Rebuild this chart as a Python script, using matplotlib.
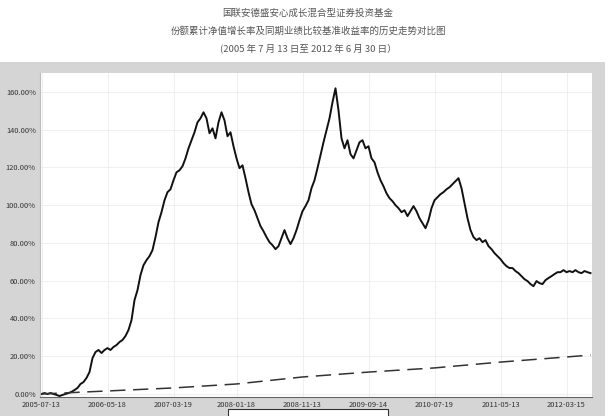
import matplotlib.pyplot as plt
from matplotlib.patches import Rectangle

plt.rcParams['font.family'] = ['Noto Sans CJK SC', 'DejaVu Sans']

title_lines = ["国联安德盛安心成长混合型证券投资基金",
               "份额累计净值增长率及同期业绩比较基准收益率的历史走势对比图",
               "(2005 年 7 月 13 日至 2012 年 6 月 30 日）"]

# cumulative NAV growth (%), equally spaced samples
fund = [0.0, 0.5, 0.0, 0.5, 0.0, -0.5, -1.1, -0.5, 0.0, 0.5, 1.1, 2.1,
        3.2, 5.3, 6.3, 8.5, 11.6, 19.0, 22.2, 23.3, 21.7, 23.3, 24.3, 23.3,
        24.9, 25.9, 27.5, 28.6, 30.7, 33.9, 39.1, 49.7, 55.0, 63.0, 68.2, 70.9,
        73.0, 76.2, 83.1, 91.0, 96.3, 102.6, 106.9, 108.4, 113.2, 117.4, 118.5, 120.6,
        124.8, 130.1, 134.4, 138.6, 143.9, 146.0, 149.2, 146.0, 138.1, 140.7, 135.4, 143.9,
        149.2, 144.9, 136.5, 138.6, 131.2, 124.8, 119.6, 121.1, 114.3, 106.9, 100.5, 97.3,
        93.1, 88.9, 86.2, 83.1, 80.4, 78.8, 76.7, 78.3, 82.5, 86.8, 82.5, 79.4,
        82.5, 86.8, 92.0, 96.8, 99.5, 102.6, 109.0, 113.2, 119.6, 126.4, 133.3, 139.7,
        146.0, 154.5, 161.9, 150.2, 135.4, 130.1, 134.4, 127.0, 124.8, 129.1, 133.3, 134.4,
        130.1, 131.2, 124.8, 122.7, 117.4, 113.2, 110.0, 106.3, 103.7, 102.1, 100.0, 98.4,
        96.3, 97.3, 94.2, 96.8, 99.5, 96.8, 93.1, 90.5, 87.8, 92.0, 98.4, 102.6,
        104.2, 105.8, 106.9, 108.4, 109.5, 111.1, 112.7, 114.3, 109.0, 101.0, 93.1, 86.8,
        83.1, 81.5, 82.5, 80.4, 81.5, 78.3, 76.7, 74.6, 73.0, 71.4, 69.3, 67.7,
        66.7, 66.7, 65.1, 64.0, 62.4, 60.8, 59.8, 58.2, 57.1, 59.8, 58.7, 58.2,
        60.3, 61.4, 62.4, 63.5, 64.5, 64.5, 65.6, 64.5, 65.1, 64.5, 65.6, 64.5,
        64.0, 65.1, 64.5, 64.0]

# benchmark (%), read at a few sample positions
bench_idx = [0, 22, 44, 65, 87, 109, 131, 153, 175, 183]
bench = [0.0, 1.6, 3.2, 5.3, 9.0, 11.6, 13.8, 16.9, 19.6, 20.6]

tick_idx = [0, 22, 44, 65, 87, 109, 131, 153, 175]
tick_labels = ["2005-07-13", "2006-05-18", "2007-03-19", "2008-01-18", "2008-11-13",
               "2009-09-14", "2010-07-19", "2011-05-13", "2012-03-15"]
y_ticks = [0, 20, 40, 60, 80, 100, 120, 140, 160]

fig = plt.figure(figsize=(6.15, 4.16), dpi=100)
fig.patches.append(Rectangle((0, 0), 605 / 615, (416 - 62) / 416, transform=fig.transFigure,
                             facecolor='#d5d5d5', edgecolor='none', zorder=-5))

for i, t in enumerate(title_lines):
    fig.text(308 / 615, 1 - (13 + 17.5 * i) / 416, t, ha='center', va='center',
             fontsize=6.8, color='#555555')

ax = fig.add_axes([40 / 615, (416 - 397) / 416, (592 - 40) / 615, (397 - 73) / 416])
ax.set_facecolor('white')

ax.plot(range(len(fund)), fund, color='#111111', linewidth=1.4)
ax.plot(bench_idx, bench, color='#333333', linewidth=1.1, dashes=(10, 5))

ax.set_xlim(-0.5, 183.5)
ax.set_ylim(-1.6, 170)
ax.set_xticks(tick_idx)
ax.set_xticklabels(tick_labels)
ax.set_yticks(y_ticks)
ax.set_yticklabels([f"{v:.2f}%" for v in y_ticks])
ax.tick_params(length=0, labelsize=5.4, colors='#333333', pad=3)
ax.grid(True, color='#ececec', linewidth=0.6)
ax.set_axisbelow(True)
for s in ['top', 'right']:
    ax.spines[s].set_visible(False)
ax.spines['left'].set_color('#bbbbbb')
ax.spines['bottom'].set_color('#666666')

# legend box, cut off by the bottom edge as in the source image
fig.patches.append(Rectangle((228 / 615, -0.02), 160 / 615, (416 - 409) / 416 + 0.02,
                             transform=fig.transFigure, facecolor='white',
                             edgecolor='#333333', linewidth=0.8))

fig.savefig('out.png', dpi=100)
